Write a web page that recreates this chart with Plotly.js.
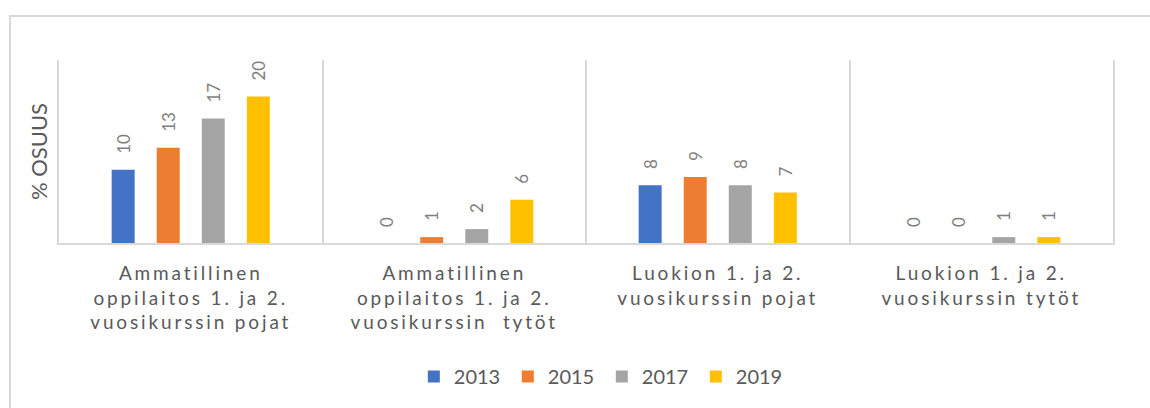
<!DOCTYPE html>
<html>
<head>
<meta charset="utf-8">
<script src="https://cdn.plot.ly/plotly-3.0.1.min.js"></script>
<style>
  html, body { margin:0; padding:0; background:#ffffff; }
  #wrap { position:relative; width:1150px; height:408px; overflow:hidden; }
  #frame { position:absolute; left:9px; top:15px; width:1200px; height:420px; border:2px solid #d9d9d9; box-sizing:border-box; }
  #chart { position:absolute; left:0; top:0; width:1150px; height:408px; }
  .xtick text { letter-spacing: 2.85px; }
</style>
</head>
<body>
<div id="wrap">
  <div id="frame"></div>
  <div id="chart"></div>
</div>
<script>
const categories = [
  "Ammatillinen<br>oppilaitos 1. ja 2.<br>vuosikurssin pojat",
  "Ammatillinen<br>oppilaitos 1. ja 2.<br>vuosikurssin\u00a0 tytöt",
  "Luokion 1. ja 2.<br>vuosikurssin pojat",
  "Luokion 1. ja 2.<br>vuosikurssin tytöt"
];
const seriesNames = ["2013", "2015", "2017", "2019"];
const v2013 = [10, 0, 7.9, 0];
const v2015 = [13, 0.8, 9, 0];
const v2017 = [17, 1.9, 7.9, 0.8];
const v2019 = [20, 5.9, 6.9, 0.8];
const colors = ["#4472C4", "#ED7D31", "#A5A5A5", "#FFC000"];
const yTitle = "% OSUUS";

const allValues = [v2013, v2015, v2017, v2019];
const FONT = "Lato, 'Open Sans', sans-serif";

const traces = allValues.map((vals, i) => ({
  type: "bar",
  name: seriesNames[i],
  x: categories,
  y: vals,
  marker: { color: colors[i] },
  texttemplate: "\u00a0\u00a0\u00a0%{y:.0f}",
  textposition: "outside",
  textangle: -90,
  constraintext: "none",
  cliponaxis: false,
  textfont: { family: FONT, size: 17, color: "#7f7f7f" },
  hoverinfo: "skip"
}));

const layout = {
  width: 1150,
  height: 408,
  margin: { l: 59, r: 37, t: 60, b: 162 },
  paper_bgcolor: "rgba(0,0,0,0)",
  plot_bgcolor: "rgba(0,0,0,0)",
  barmode: "group",
  bargap: 0.316,
  bargroupgap: 0.49,
  font: { family: FONT, color: "#595959" },
  showlegend: true,
  legend: {
    orientation: "h",
    x: 0.515, xanchor: "center",
    y: -0.73, yanchor: "middle",
    font: { family: FONT, size: 20, color: "#595959" },
    itemwidth: 30,
    entrywidth: 49,
    traceorder: "normal",
    itemclick: false
  },
  xaxis: {
    type: "category",
    tickson: "boundaries",
    showgrid: true,
    gridcolor: "#d9d9d9",
    gridwidth: 2,
    showline: true,
    linecolor: "#d9d9d9",
    linewidth: 2,
    ticks: "",
    ticklabelstandoff: 12,
    tickfont: { family: FONT, size: 19, color: "#595959" },
    fixedrange: true
  },
  yaxis: {
    range: [0, 25],
    showticklabels: false,
    showgrid: false,
    zeroline: false,
    showline: true,
    mirror: true,
    linecolor: "#d9d9d9",
    linewidth: 2,
    ticks: "",
    title: { text: yTitle, font: { family: FONT, size: 22, color: "#595959" }, standoff: 3 },
    fixedrange: true
  }
};

Plotly.newPlot("chart", traces, layout, { displayModeBar: false, staticPlot: true });
</script>
</body>
</html>
